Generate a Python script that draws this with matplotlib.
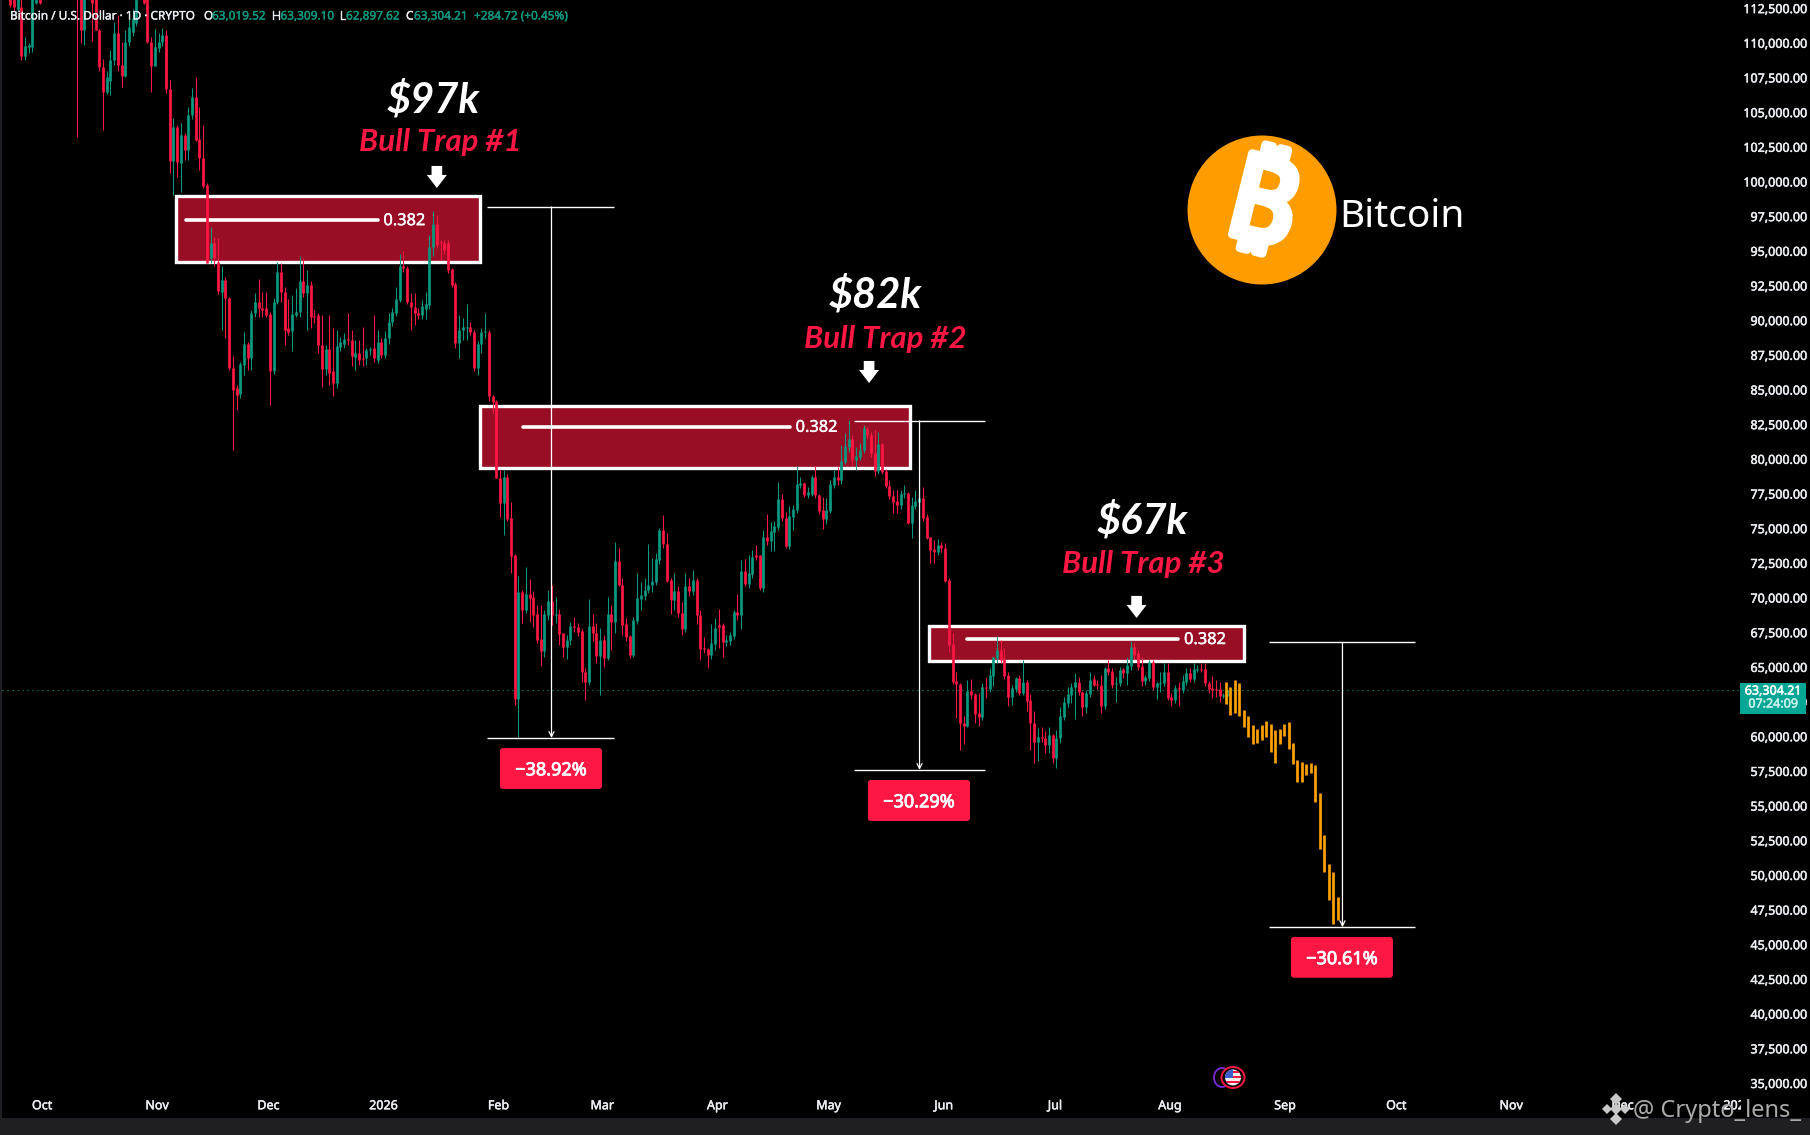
import numpy as np
import matplotlib
matplotlib.use("Agg")
import matplotlib.pyplot as plt
import matplotlib.patheffects as pe
from matplotlib.patches import Rectangle, Polygon, Ellipse, FancyBboxPatch
from matplotlib.transforms import IdentityTransform

# ---- candles (thousand USD), one per day; day 0 = 1 Oct 2025, first candle day -9
opens = [
 114.0,114.2,112.4,112.6,109.05,109.7,109.73,112.85,114.0,114.0,
 115.5,116.8,118.2,119.5,121.0,120.0,118.5,117.0,115.0,113.5,
 110.9,113.5,113.5,113.5,110.93,108.28,106.48,107.27,108.76,110.69,
 108.4,107.61,110.09,110.8,111.4,113.3,114.0,113.2,110.09,108.36,
 109.6,110.09,110.57,106.65,101.5,103.96,101.36,103.36,102.28,104.8,
 106.12,103.05,101.68,99.75,94.47,95.55,94.23,92.06,92.9,91.58,
 86.54,85.09,84.66,86.78,88.27,87.3,90.5,91.34,90.86,90.86,
 90.45,86.3,91.3,93.5,92.06,89.4,89.25,90.4,90.6,92.8,
 91.94,92.54,90.3,90.38,88.2,86.46,87.9,86.3,85.45,88.1,
 88.3,88.63,88.58,87.38,87.62,87.26,87.26,87.86,88.0,87.14,
 88.4,87.5,88.7,89.9,90.5,91.46,93.87,93.75,91.34,90.98,
 90.5,90.4,90.8,91.1,95.3,96.94,95.67,95.6,95.6,93.67,
 92.6,88.34,89.3,89.4,89.5,89.18,86.54,88.27,89.18,89.18,
 84.5,84.17,78.6,76.84,78.67,75.71,73.07,62.69,70.43,69.1,
 70.26,70.07,68.82,67.0,66.17,68.74,69.75,68.74,68.82,67.42,
 66.4,66.94,67.95,67.9,67.59,64.66,63.94,67.95,67.42,65.81,
 66.94,65.67,68.82,68.26,72.64,70.9,68.1,67.23,65.86,68.34,
 69.9,70.1,70.54,70.9,71.15,72.71,74.87,73.84,71.27,69.83,
 70.47,68.86,67.74,70.83,70.47,71.27,68.74,66.34,66.27,65.86,
 66.65,68.0,68.0,66.82,66.9,67.25,68.94,68.74,71.92,70.98,
 71.7,73.07,73.07,70.67,74.39,74.08,74.75,75.1,77.1,75.76,
 73.74,75.83,76.31,78.1,78.24,77.39,77.5,78.67,77.39,76.31,
 75.67,76.26,78.12,78.67,78.48,79.8,80.88,81.4,79.92,80.16,
 80.64,82.25,81.72,80.45,79.15,81.07,79.15,78.04,77.35,76.96,
 76.67,77.44,77.51,75.4,76.62,76.91,77.2,75.78,74.34,73.48,
 73.3,73.79,73.55,71.27,66.65,63.98,63.74,60.93,60.74,63.26,
 63.02,61.65,61.41,63.58,63.4,64.37,65.62,66.22,65.55,64.42,
 62.85,63.41,64.18,63.14,63.94,62.62,60.93,59.61,59.92,59.85,
 59.37,60.09,58.46,59.85,61.41,62.37,62.97,63.53,63.94,63.22,
 62.13,63.05,64.1,63.74,63.7,62.2,64.92,64.7,63.74,63.82,
 64.83,64.58,65.09,66.46,65.98,65.07,63.98,64.22,65.33,63.53,
 63.77,63.82,64.66,62.85,62.62,63.46,63.34,63.94,64.54,64.13,
 64.78,64.85,64.82,63.86,63.46,63.38,63.38,62.9,62.9]
closes = [
 112.7,112.6,113.8,109.05,109.77,109.85,113.2,114.0,112.85,115.5,
 116.8,118.2,119.5,121.0,120.0,118.5,117.0,115.0,113.5,110.9,
 113.5,115.0,112.85,110.93,108.28,106.48,107.56,108.76,110.69,108.4,
 107.61,110.09,111.17,111.77,113.3,114.5,112.9,110.09,108.36,109.73,
 110.09,110.57,106.65,101.5,103.96,101.44,103.36,102.28,104.8,106.12,
 103.0,101.68,99.7,94.1,95.55,94.47,92.1,92.9,91.58,86.54,
 84.97,84.6,86.85,88.27,87.3,90.5,91.34,90.86,90.75,90.38,
 86.3,91.3,93.5,92.06,89.3,89.18,90.45,90.6,92.8,91.94,
 92.54,90.26,90.2,88.2,86.46,87.9,86.2,85.45,88.15,88.46,
 88.63,88.58,87.43,87.62,87.14,87.2,87.86,87.9,87.26,88.4,
 87.5,88.7,89.9,90.6,91.53,93.87,93.75,91.34,90.98,90.5,
 90.4,91.0,91.15,95.3,96.94,95.43,95.6,95.07,93.63,92.55,
 88.34,89.3,89.5,89.54,89.13,86.54,88.27,89.18,89.23,84.5,
 84.13,78.6,76.84,78.67,75.67,73.0,62.69,70.43,69.1,70.26,
 69.95,68.74,66.94,66.17,68.82,69.75,68.74,68.79,67.37,66.4,
 66.94,67.95,67.88,67.54,64.6,63.94,67.95,67.42,65.81,66.94,
 65.67,68.82,68.26,72.64,70.9,68.02,67.18,65.86,68.38,69.95,
 70.16,70.54,70.9,71.2,72.76,74.87,73.84,71.22,69.83,70.47,
 68.86,67.74,70.83,70.47,71.27,68.74,66.29,66.27,65.86,66.7,
 67.83,67.9,66.82,66.94,67.3,68.94,68.74,71.92,70.98,71.75,
 72.9,72.95,70.67,74.39,74.08,74.8,75.16,77.1,75.76,73.74,
 75.88,76.36,78.19,78.24,77.39,77.63,78.67,77.39,76.24,75.67,
 76.31,78.19,78.67,78.48,79.84,80.93,81.4,79.92,80.2,80.64,
 82.25,81.72,80.4,79.15,81.07,79.08,78.04,77.35,76.91,76.67,
 77.44,77.51,75.4,76.67,76.96,77.2,75.71,74.32,73.43,73.3,
 73.79,73.6,71.22,66.58,63.94,63.74,60.93,60.77,63.26,62.97,
 61.6,61.41,63.53,63.5,64.42,65.69,66.22,65.5,64.37,62.85,
 63.46,64.22,63.14,63.94,62.54,60.93,59.61,59.92,59.87,59.37,
 60.09,58.46,59.9,61.46,62.45,63.02,63.58,63.94,63.22,62.13,
 63.1,64.06,63.7,63.67,62.2,64.92,64.66,63.7,63.86,64.78,
 64.58,65.14,66.46,65.86,65.02,63.98,64.3,65.33,63.53,63.82,
 63.86,64.66,62.78,62.62,63.46,63.41,63.98,64.54,64.13,64.82,
 64.85,64.8,63.82,63.41,63.34,63.34,62.9,62.95,63.3]
highs = [
 114.5,114.5,114.2,113.5,110.45,109.97,114.0,114.5,114.5,116.2,
 117.5,119.0,120.5,122.0,122.5,121.0,119.2,118.0,115.5,113.8,
 114.0,115.5,114.0,114.0,111.0,108.8,108.0,109.5,111.5,112.0,
 110.09,110.9,111.9,112.4,114.0,115.0,114.3,114.0,110.4,111.0,
 110.7,111.1,110.93,107.3,104.56,104.1,104.2,103.5,105.4,106.72,
 107.5,105.4,104.07,99.87,96.75,96.03,95.9,93.87,93.14,91.7,
 87.4,85.3,87.0,89.18,88.46,90.7,91.94,93.0,92.0,92.06,
 90.6,91.6,94.2,94.1,92.4,91.5,91.8,92.3,94.6,94.45,
 93.6,92.8,90.74,90.5,90.4,88.2,90.4,89.4,89.3,88.8,
 89.06,90.55,89.3,88.58,88.58,89.5,88.0,88.1,90.4,89.3,
 88.7,89.2,90.5,90.9,92.4,94.78,95.0,93.9,91.94,91.94,
 90.9,91.46,92.0,96.15,97.9,97.6,95.8,95.8,95.8,93.75,
 92.78,90.4,90.14,91.17,89.9,89.3,88.5,89.42,90.5,89.3,
 84.6,84.24,79.2,79.2,78.9,76.9,73.14,71.55,70.55,72.23,
 71.34,70.47,69.46,69.46,69.1,70.55,70.9,70.07,69.18,67.42,
 67.3,68.26,68.6,68.14,67.7,64.9,69.9,68.8,68.14,67.78,
 67.3,70.07,69.46,73.98,73.55,71.43,68.5,67.3,68.6,71.75,
 71.15,71.4,73.86,72.83,73.2,74.99,75.95,74.63,71.4,71.75,
 70.8,69.7,71.75,71.4,71.99,71.43,69.1,67.18,66.34,68.1,
 68.5,69.15,68.2,67.3,67.5,69.1,70.23,72.71,72.76,73.07,
 73.43,73.79,73.1,74.87,76.0,75.47,75.52,78.3,77.5,76.19,
 76.6,76.7,79.48,78.72,78.36,78.0,78.84,79.48,77.44,77.27,
 77.2,78.5,79.2,79.44,81.0,81.84,82.8,81.72,80.88,81.12,
 82.44,82.32,81.96,82.08,81.96,81.12,79.3,78.48,77.76,77.76,
 77.76,78.12,77.63,77.27,77.76,77.76,77.95,76.02,74.39,74.15,
 74.2,74.03,73.9,71.4,67.42,64.66,63.82,61.46,64.06,64.13,
 63.1,63.1,63.82,64.3,64.9,65.74,67.23,66.94,66.34,64.6,
 63.7,64.25,64.42,65.5,64.06,63.02,61.82,60.57,60.69,60.38,
 60.69,60.14,60.45,62.13,62.85,63.53,63.82,64.54,64.3,63.29,
 63.34,64.66,64.42,64.06,64.42,65.02,65.5,64.9,64.3,65.0,
 64.9,65.74,66.89,66.7,66.22,65.74,64.42,65.5,65.5,63.94,
 64.66,65.26,65.26,63.1,63.7,63.94,64.42,64.9,64.9,65.26,
 65.14,65.3,65.3,63.98,64.34,64.06,63.94,63.1,63.4]
lows = [
 112.6,112.3,112.3,108.76,108.76,109.25,109.37,112.8,112.8,113.6,
 115.0,116.0,117.5,118.9,119.0,117.0,116.0,114.0,103.24,109.96,
 109.85,113.2,110.1,110.9,108.0,103.72,106.3,106.24,108.4,108.0,
 106.84,107.5,109.8,110.5,111.2,113.2,112.8,110.0,106.48,108.3,
 109.3,109.8,106.4,100.6,99.03,100.35,99.27,101.55,101.55,104.5,
 102.9,100.83,99.5,94.1,94.1,93.87,91.9,89.3,88.7,86.4,
 80.65,83.5,84.4,86.06,86.4,86.4,90.2,90.26,90.2,90.2,
 83.9,86.1,91.2,91.34,88.2,88.9,87.8,90.2,90.2,91.7,
 89.3,89.4,89.8,87.6,85.2,86.06,85.33,84.5,85.1,87.8,
 88.0,88.2,86.66,86.4,86.8,86.66,86.8,87.5,87.0,86.9,
 87.26,87.3,88.3,89.6,90.3,91.3,93.5,91.2,89.3,89.66,
 90.1,90.1,90.1,90.8,94.6,95.2,94.35,94.8,93.4,92.4,
 88.0,87.26,88.6,88.58,88.9,86.3,86.06,87.6,88.7,84.2,
 83.3,78.6,75.83,74.51,75.5,71.8,62.25,59.97,68.14,68.86,
 68.26,67.9,66.7,65.09,65.74,68.4,68.0,68.2,66.58,65.74,
 65.6,66.6,67.5,67.2,63.94,62.62,63.7,66.9,65.3,62.98,
 65.0,65.5,66.22,67.42,70.8,67.3,66.9,65.62,65.74,68.1,
 69.1,69.8,70.3,70.4,70.9,72.4,73.6,71.1,68.82,69.1,
 68.6,67.3,67.5,70.1,70.2,68.1,65.5,66.0,64.95,65.6,
 66.2,66.34,65.74,66.5,66.58,67.0,68.4,67.74,70.8,70.7,
 71.4,72.7,70.55,70.4,73.8,73.38,73.38,74.9,75.5,73.6,
 73.5,74.87,76.1,77.9,77.27,77.15,77.3,77.2,76.0,74.94,
 75.3,76.1,77.9,78.1,78.2,79.6,80.5,79.56,79.2,79.9,
 80.4,81.5,80.1,78.76,78.9,78.9,77.9,77.1,76.07,76.07,
 76.4,77.2,75.3,74.27,76.4,76.7,75.5,74.2,72.47,72.47,
 73.1,73.3,71.1,66.1,63.8,61.29,59.01,59.44,60.69,62.7,
 60.93,60.74,61.2,62.78,63.2,63.62,65.26,65.3,64.1,62.18,
 62.25,63.2,63.0,63.0,61.82,59.01,58.05,58.24,59.6,58.82,
 58.77,58.1,57.74,59.54,61.2,62.1,62.37,61.24,63.0,61.49,
 61.65,62.85,63.62,63.4,61.7,62.0,64.42,63.5,62.49,63.6,
 64.22,63.7,64.8,65.6,64.8,63.65,63.7,64.0,63.3,62.69,
 63.22,63.6,62.6,62.18,62.4,62.18,63.1,63.7,63.9,63.9,
 64.6,64.6,63.6,63.14,62.73,62.81,62.49,62.78,62.33]

# ---- projected (orange) bars, thousand USD
proj_top = [63.89,63.53,64.06,63.82,61.89,61.46,60.81,60.52,60.81,61.1,60.88,60.45,60.52,
            60.88,61.03,59.49,58.27,58.12,58.0,58.05,57.93,55.91,52.88,50.79,50.22,48.41]
proj_bottom = [62.33,61.53,61.65,61.46,60.64,59.97,59.44,59.49,59.73,59.92,58.87,58.05,59.44,
               60.02,59.08,58.0,56.7,56.7,57.21,57.38,55.26,51.87,50.22,48.2,46.47,46.76]

# ---- zones: box(day0, day1, price0, price1), fib line (day0, day1, price)
zone_boxes = [(35.6, 117.7, 94.22, 98.98), (117.6, 233.6, 79.32, 83.84), (238.6, 323.6, 65.42, 67.97)]
zone_lines = [(38.3, 90.1, 97.2), (129.1, 201.2, 82.3), (249.0, 305.9, 67.0)]
zone_peaks = ["$97k", "$82k", "$67k"]
zone_names = ["Bull Trap #1", "Bull Trap #2", "Bull Trap #3"]

# ---- measured drops
drop_text = ["\u221238.92%", "\u221230.29%", "\u221230.61%"]
drop_top = [98.16, 82.73, 66.77]
drop_bottom = [59.87, 57.57, 46.23]
drop_day = [136.9, 236.1, 350.1]
drop_span = [(119.5, 153.7), (218.4, 253.8), (330.3, 369.6)]
drop_labels = [(123.0, 150.5, 56.2, 59.15), (222.2, 249.7, 53.89, 56.85), (336.2, 363.7, 42.59, 45.53)]

price_ticks = np.arange(35000, 112501, 2500)
month_days = [0, 31, 61, 92, 123, 151, 182, 212, 243, 273, 304, 335, 365, 396, 426, 457]
month_labels = ["Oct", "Nov", "Dec", "2026", "Feb", "Mar", "Apr", "May", "Jun", "Jul", "Aug", "Sep",
                "Oct", "Nov", "Dec", "2027"]
last_price = 63304.21

RED, TEAL, ORANGE = "#ff1744", "#089981", "#ffa200"
BOX, STRIP = "#990e25", "#1f1e23"
INK = "#eceff4"
W, H = 1810, 1135
FONT = "Noto Sans"
plt.rcParams["font.family"] = [FONT, "DejaVu Sans"]


def heavy(col, w=0.35):
    return [pe.withStroke(linewidth=w, foreground=col)]


fig = plt.figure(figsize=(W / 100, H / 100), dpi=100, facecolor="black")
ax = fig.add_axes([2 / W, (H - 1118) / H, (1741 - 2) / W, 1118 / H], facecolor="black")
px = 3.71      # pixels per day
ax.set_xlim((2 - 43.6) / px, (1741 - 43.6) / px)
ax.set_ylim(35000 + (1083 - 1118) * 72.1, 35000 + 1083 * 72.1)
for s in ax.spines.values():
    s.set_visible(False)

ax.yaxis.tick_right()
ax.set_yticks(price_ticks)
ax.set_yticklabels([f"{v:,.2f}" for v in price_ticks], fontsize=9, color=INK, ha="right")
ax.tick_params(axis="y", length=0, pad=47.5)
ax.set_xticks(np.array(month_days) - 0.4)
ax.set_xticklabels(month_labels, fontsize=9, color=INK)
ax.tick_params(axis="x", length=0, direction="in", pad=-13.5)
for lab in ax.get_xticklabels():
    lab.set_clip_on(True)
    lab.set_clip_box(ax.bbox)
    lab.set_path_effects(heavy(INK))
for lab in ax.get_yticklabels():
    lab.set_path_effects(heavy(INK))

# candles
days = np.arange(-9, -9 + len(opens))
o, c, hi, lo = [np.array(v) * 1000 for v in (opens, closes, highs, lows)]
cols = np.where(c >= o, TEAL, RED)
ax.vlines(days, lo, hi, colors=cols, lw=0.75, zorder=3)
ax.vlines(days, np.minimum(o, c), np.maximum(o, c), colors=cols, lw=1.95, zorder=3.1, capstyle="butt")

# projection
pd_x = 318.7 + 1.204 * np.arange(len(proj_top))
ax.vlines(pd_x, np.array(proj_bottom) * 1000, np.array(proj_top) * 1000, colors=ORANGE, lw=1.95, zorder=3.2)

ax.axhline(last_price, color=TEAL, lw=0.8, ls=(0, (1, 3.5)), zorder=1)

# zones
for (d0, d1, p0, p1), (l0, l1, lp) in zip(zone_boxes, zone_lines):
    ax.add_patch(Rectangle((d0, p0 * 1000), d1 - d0, (p1 - p0) * 1000, fc=BOX, ec="white", lw=2.4, zorder=2))
    ax.plot([l0, l1], [lp * 1000, lp * 1000], color="white", lw=2.6, solid_capstyle="round", zorder=2.5)
    ax.text(l1 + 1.5, lp * 1000 - 60, "0.382", color="white", fontsize=11.8, va="center", ha="left", zorder=2.6,
            path_effects=heavy("white", 0.3))

# arrows
for cx, tip in zip([106.0, 222.5, 294.6], [99.53, 85.47, 68.53]):
    t = tip * 1000
    ax.add_patch(Polygon([(cx, t), (cx - 2.7, t + 940), (cx - 1.44, t + 940), (cx - 1.44, t + 1590),
                          (cx + 1.44, t + 1590), (cx + 1.44, t + 940), (cx + 2.7, t + 940)],
                         closed=True, fc="white", ec="none", zorder=5))

# zone titles
for txt, name, a, b in zip(zone_peaks, zone_names,
                           [(433, 100), (875, 295), (1142, 521)],
                           [(440, 142), (885, 339), (1143, 564)]):
    fig.text(a[0] / W, 1 - a[1] / H, txt, color="white", fontsize=30, family=["Lato", "Noto Sans"],
             fontweight="bold", fontstyle="italic", ha="center", va="center")
    fig.text(b[0] / W, 1 - b[1] / H, name, color=RED, fontsize=22.5, family=["Lato", "Noto Sans"],
             fontstyle="italic", fontweight="bold", ha="center", va="center")

# measures
fig.canvas.draw()
for i, t in enumerate(drop_text):
    d0, d1 = drop_span[i]
    ax.hlines([drop_top[i] * 1000, drop_bottom[i] * 1000], d0, d1, colors="white", lw=1.0, zorder=4)
    ax.annotate("", xy=(drop_day[i], drop_bottom[i] * 1000), xytext=(drop_day[i], drop_top[i] * 1000),
                arrowprops=dict(arrowstyle="->", color="white", lw=0.9, mutation_scale=9, shrinkA=0, shrinkB=0),
                zorder=4)
    x0, x1, y0, y1 = drop_labels[i]
    (a0, b0), (a1, b1) = ax.transData.transform([(x0, y0 * 1000), (x1, y1 * 1000)])
    ax.add_patch(FancyBboxPatch((a0 + 3, b0 + 3), a1 - a0 - 6, b1 - b0 - 6, boxstyle="round,pad=3,rounding_size=3",
                                fc=RED, ec="none", zorder=5, transform=IdentityTransform()))
    ax.text((x0 + x1) / 2, (y0 + y1) / 2 * 1000 - 130, t, color="white", fontsize=13, fontweight="bold",
            ha="center", va="center", zorder=6, path_effects=heavy("white", 0.6))

# logo
fig.add_artist(Ellipse((1262 / W, 1 - 210 / H), 149 / W, 149 / H, transform=fig.transFigure, fc="#ff9d00", ec="none"))
fig.text(1261 / W, 1 - 210 / H, "\u20bf", family=["Noto Sans", "Inter", "Roboto", "Open Sans", "Lato", "DejaVu Sans"],
         fontweight="bold", fontsize=84, color="white", rotation=-14, ha="center", va="center", zorder=5,
         path_effects=heavy("white", 6))
fig.text(1339 / W, 1 - 217 / H, "Bitcoin", color="white", fontsize=28, ha="left", va="center")

# header
hdr = [(10, "Bitcoin / U.S. Dollar \u00b7 1D \u00b7 CRYPTO", INK), (204, "O", INK), (212, "63,019.52", TEAL),
       (272, "H", INK), (280.5, "63,309.10", TEAL), (340, "L", INK), (346, "62,897.62", TEAL),
       (406, "C", INK), (414, "63,304.21", TEAL), (474, "+284.72 (+0.45%)", TEAL)]
for x, t, col in hdr:
    fig.text(x / W, 1 - 16 / H, t, color=col, fontsize=8.5, ha="left", va="center", path_effects=heavy(col, 0.25))

# last price tag
fig.add_artist(Rectangle((1740 / W, 1 - 714 / H), 66 / W, 31.5 / H, transform=fig.transFigure, fc="#04a796", ec="none"))
fig.text(1773 / W, 1 - 691 / H, "63,304.21", color="white", fontsize=9, ha="center", va="center",
         path_effects=heavy("white"))
fig.text(1773 / W, 1 - 704 / H, "07:24:09", color="#c9f2ec", fontsize=9, ha="center", va="center",
         path_effects=heavy("#c9f2ec"))

# frame strips
fig.add_artist(Rectangle((0, 0), 1, (H - 1118) / H, transform=fig.transFigure, fc=STRIP, ec="none"))
fig.add_artist(Rectangle((0, 0), 2 / W, 1, transform=fig.transFigure, fc=STRIP, ec="none"))

# calendar icon with flag
fig.add_artist(Ellipse((1222 / W, 1 - 1077.5 / H), 16 / W, 19 / H, transform=fig.transFigure, fc="none", ec="#7a2bd8", lw=1.3))
fig.add_artist(Ellipse((1233 / W, 1 - 1077.5 / H), 23 / W, 21 / H, transform=fig.transFigure, fc="black", ec=RED, lw=1.4))
disk = Ellipse((1233 / W, 1 - 1077.5 / H), 16 / W, 16 / H, transform=fig.transFigure, fc="#f2f2f2", ec="none")
fig.add_artist(disk)
for yy in (1072, 1077, 1082):
    st = Rectangle((1223 / W, 1 - (yy + 1.3) / H), 20 / W, 2.6 / H, transform=fig.transFigure, fc=RED, ec="none")
    fig.add_artist(st)
    st.set_clip_path(disk)
canton = Rectangle((1224 / W, 1 - 1078 / H), 9 / W, 9 / H, transform=fig.transFigure, fc="#3a5fc8", ec="none")
fig.add_artist(canton)
canton.set_clip_path(disk)

# watermark
fig.text(1633 / W, 1 - 1111 / H, "@ Crypto_lens_", color="#ababab", fontsize=17, ha="left", va="center", zorder=6)
for dx, dy, s in [(1616, 1099, 6), (1607, 1109, 5), (1625, 1109, 5), (1616, 1119, 6), (1616, 1109, 6)]:
    fig.add_artist(Polygon([((dx - s) / W, 1 - dy / H), (dx / W, 1 - (dy - s) / H), ((dx + s) / W, 1 - dy / H),
                            (dx / W, 1 - (dy + s) / H)], closed=True, transform=fig.transFigure,
                           fc="#c8c8c8", ec="none", zorder=6))

fig.savefig("out.png", dpi=100, facecolor="black")
